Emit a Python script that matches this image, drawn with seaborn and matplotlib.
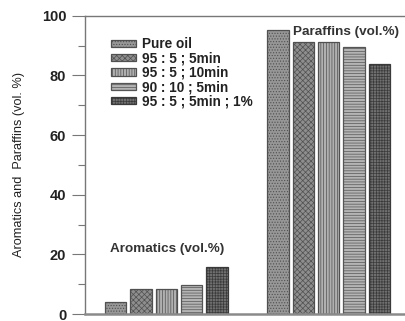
import matplotlib
matplotlib.use("Agg")
import matplotlib.pyplot as plt
import seaborn as sns
import pandas as pd
from matplotlib.ticker import MultipleLocator

groups = ["Aromatics", "Paraffins"]
treatments = ["Pure oil", "95 : 5 ; 5min", "95 : 5 ; 10min", "90 : 10 ; 5min", "95 : 5 ; 5min ; 1%"]
aromatics = [4.0, 8.5, 8.5, 9.8, 15.8]
paraffins = [95.3, 91.1, 91.1, 89.7, 83.8]
group_titles = ["Aromatics (vol.%)", "Paraffins (vol.%)"]

rows = []
for g, vals in zip(groups, [aromatics, paraffins]):
    for t, v in zip(treatments, vals):
        rows.append({"group": g, "treatment": t, "value": v})
df = pd.DataFrame(rows)

sns.set_theme(style="ticks")
plt.rcParams['font.family'] = ['Liberation Sans', 'DejaVu Sans']
plt.rcParams['hatch.linewidth'] = 0.5

fig = plt.figure(figsize=(4.06, 3.21), dpi=100)
ax = fig.add_axes([0.2094, 0.0218, 0.80, 0.929])

faces = ["#979797", "#8e8e8e", "#b0b0b0", "#b4b4b4", "#707070"]
hatches = ["......", "xxxxxx", "||||||", "------", "++++++"]
edges = ["#505050", "#505050", "#505050", "#555555", "#3a3a3a"]

sns.barplot(data=df, x="group", y="value", hue="treatment", order=groups,
            hue_order=treatments, width=0.78, gap=0.16, ax=ax, legend=False,
            palette=faces, saturation=1)

for cont, h, ec in zip(ax.containers, hatches, edges):
    for p in cont.patches:
        p.set_hatch(h)
        p.set_edgecolor(ec)
        p.set_linewidth(0.9)

ax.set_xlim(-0.5, 1.5)
ax.set_ylim(0, 100)
ax.set_xticks([])
ax.set_xlabel("")
ax.yaxis.set_major_locator(MultipleLocator(20))
ax.yaxis.set_minor_locator(MultipleLocator(10))
ax.tick_params(axis='y', which='major', length=9.5, width=0.8, color="#777777", labelsize=10.5, pad=4)
ax.tick_params(axis='y', which='minor', length=5, width=0.8, color="#777777")
for lab in ax.get_yticklabels():
    lab.set_fontweight('bold')
    lab.set_color("#222222")
ax.set_ylabel("Aromatics and  Paraffins (vol. %)", fontsize=9.2, color="#222222", labelpad=12)

for side in ["left", "top", "bottom"]:
    ax.spines[side].set_color("#777777")
    ax.spines[side].set_linewidth(1.0)
ax.spines["bottom"].set_linewidth(1.8)
ax.spines["bottom"].set_color("#8a8a8a")
ax.spines["right"].set_visible(False)

ax.text(0.005, 21.9, group_titles[0], ha="center", va="center", fontsize=9.7,
        fontweight="bold", color="#333333")
ax.text(1.11, 94.6, group_titles[1], ha="center", va="center", fontsize=9.7,
        fontweight="bold", color="#333333")

leg = ax.legend(handles=list(ax.containers), labels=treatments, loc="upper left",
                bbox_to_anchor=(0.062, 0.947), frameon=False, fontsize=9.8,
                handlelength=1.85, handleheight=0.45, handletextpad=0.45,
                labelspacing=0.03, borderaxespad=0)
for t in leg.get_texts():
    t.set_fontweight("bold")
    t.set_color("#222222")

fig.savefig("out.png", dpi=100)
